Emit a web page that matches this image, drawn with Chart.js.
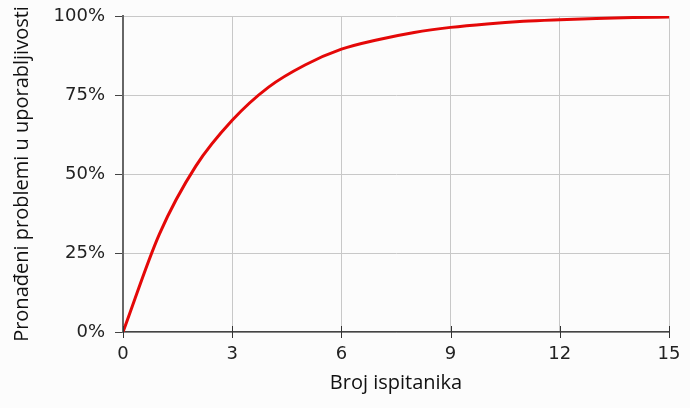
<!DOCTYPE html>
<html>
<head>
<meta charset="utf-8">
<script src="https://cdn.jsdelivr.net/npm/chart.js@4/dist/chart.umd.min.js"></script>
<style>
  html, body { margin: 0; padding: 0; background: #fcfcfc; }
  #wrap { width: 690px; height: 408px; position: relative; }
</style>
</head>
<body>
<div id="wrap"><canvas id="grafica"></canvas></div>
<script>
// broj ispitanika (x) i postotak pronađenih problema (y), očitano sa slike
var ispitanici = [0, 1, 2, 3, 4, 5, 6, 7, 8, 9, 10, 11, 12, 13, 14, 15];
var postotak = [0, 31, 52.5, 67, 77.5, 84.5, 89.5, 92.5, 94.8, 96.4, 97.5, 98.3, 98.8, 99.2, 99.5, 99.7];
var xTicks = [0, 3, 6, 9, 12, 15];
var yTicks = [0, 25, 50, 75, 100];

var tocke = [];
for (let i = 0; i < ispitanici.length; i++) {
    tocke.push({x: ispitanici[i], y: postotak[i]});
}

// crtice na x osi koje prelaze preko linije osi
var crtice = {
    id: 'crtice',
    afterDraw: function(chart){
        var ctx = chart.ctx;
        var xs = chart.scales.x;
        var y0 = chart.scales.y.getPixelForValue(0);
        ctx.save();
        ctx.strokeStyle = '#333';
        ctx.lineWidth = 1;
        xTicks.forEach(function(v){
            var px = Math.round(xs.getPixelForValue(v)) + 0.5;
            ctx.beginPath();
            ctx.moveTo(px, y0 - 6);
            ctx.lineTo(px, y0 + 6);
            ctx.stroke();
        });
        ctx.restore();
    }
};

var ctx = document.getElementById('grafica');
var graf = new Chart(ctx, {
    type: 'line',
    data: {
        datasets: [{
            data: tocke,
            borderColor: '#e40808',
            borderWidth: 3,
            pointRadius: 0,
            cubicInterpolationMode: 'monotone',
            fill: false
        }]
    },
    options: {
        responsive: true,
        maintainAspectRatio: false,
        animation: false,
        layout: { padding: { left: 10, right: 21, top: 16, bottom: 0 } },
        plugins: {
            legend: { display: false },
            tooltip: { enabled: false }
        },
        scales: {
            x: {
                type: 'linear',
                min: 0,
                max: 15,
                afterBuildTicks: function(axis){
                    axis.ticks = xTicks.map(function(v){ return {value: v}; });
                },
                afterFit: function(s){ s.height = 76; s.paddingLeft = 0; s.paddingRight = 0; },
                grid: { color: '#c8c8c8', drawTicks: false },
                border: { color: '#444', width: 1.5 },
                ticks: {
                    padding: 12,
                    color: '#222',
                    font: { family: 'DejaVu Sans', size: 18 },
                    maxRotation: 0
                },
                title: {
                    display: true,
                    text: 'Broj ispitanika',
                    color: '#111',
                    font: { family: 'Open Sans', size: 20 },
                    padding: { top: 6, bottom: 13 }
                }
            },
            y: {
                min: 0,
                max: 100,
                afterBuildTicks: function(axis){
                    axis.ticks = yTicks.map(function(v){ return {value: v}; });
                },
                afterFit: function(s){ s.width = 113; s.paddingTop = 0; s.paddingBottom = 0; },
                grid: { color: '#c8c8c8', tickColor: '#444', tickLength: 8 },
                border: { color: '#666', width: 2 },
                ticks: {
                    padding: 10,
                    color: '#222',
                    font: { family: 'DejaVu Sans', size: 18 },
                    callback: function(v){ return v + '%'; }
                },
                title: {
                    display: true,
                    text: 'Pronađeni problemi u uporabljivosti',
                    color: '#111',
                    font: { family: 'Open Sans', size: 20 },
                    padding: { top: 0, bottom: 6 }
                }
            }
        }
    },
    plugins: [crtice]
});
</script>
</body>
</html>
